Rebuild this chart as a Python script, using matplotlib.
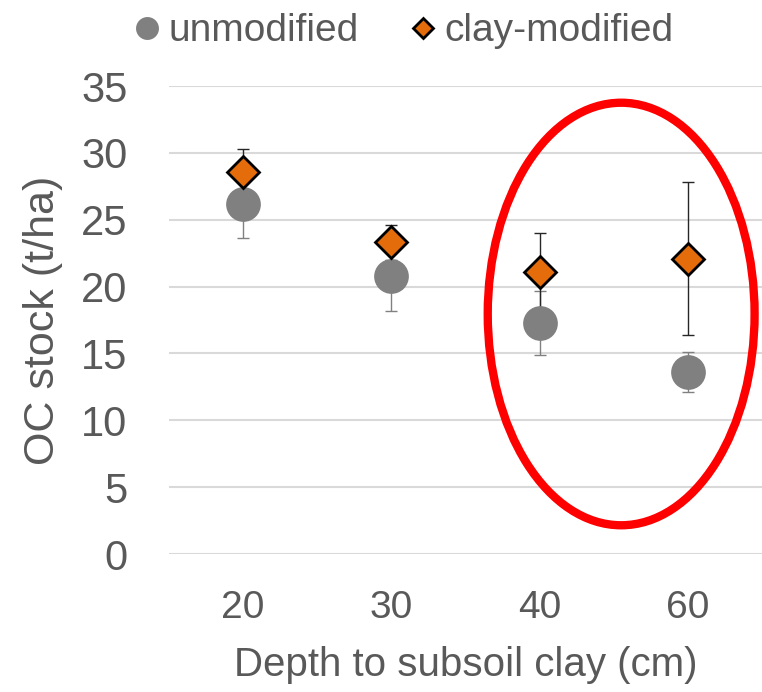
import matplotlib.pyplot as plt
from matplotlib.patches import Ellipse

# OC stock by depth to subsoil clay
depths = ["20", "30", "40", "60"]
unmodified = [26.2, 20.8, 17.3, 13.6]
unmodified_err = [2.6, 2.6, 2.4, 1.5]
clay_modified = [28.6, 23.3, 21.1, 22.1]
clay_modified_err = [1.7, 1.3, 2.9, 5.7]

plt.rcParams["font.family"] = ["Liberation Sans", "DejaVu Sans"]

text_col = "#595959"
grid_col = "#d9d9d9"

fig = plt.figure(figsize=(7.62, 6.92), dpi=100)
ax = fig.add_axes([0.2218, 0.1994, 0.7782, 0.6763])

x = list(range(len(depths)))
# error bars sit behind every marker
ax.errorbar(x, unmodified, yerr=unmodified_err, fmt="none", ecolor="#808080",
            elinewidth=1.0, capsize=4.5, capthick=1.0, zorder=2)
ax.errorbar(x, clay_modified, yerr=clay_modified_err, fmt="none", ecolor="#262626",
            elinewidth=1.0, capsize=4.5, capthick=1.0, zorder=2)
h1, = ax.plot(x, unmodified, "o", color="#808080", markersize=25,
              markeredgewidth=0, zorder=3, label="unmodified")
h2, = ax.plot(x, clay_modified, "D", color="#e46c0a", markersize=16,
              markeredgecolor="black", markeredgewidth=2, zorder=4,
              label="clay-modified")

ax.set_xlim(-0.5, 3.5)
ax.set_ylim(0, 35)
ax.set_xticks(x)
ax.set_xticklabels(depths)
ax.set_yticks(range(0, 36, 5))
ax.yaxis.grid(True, color=grid_col, linewidth=1.5)
ax.set_axisbelow(True)
for s in ax.spines.values():
    s.set_visible(False)
ax.tick_params(length=0, colors=text_col)
ax.tick_params(axis="y", pad=30, labelsize=30)
ax.tick_params(axis="x", pad=26, labelsize=28)

ax.set_xlabel("Depth to subsoil clay (cm)", fontsize=29, color=text_col, labelpad=14)
ax.set_ylabel("OC stock (t/ha)", fontsize=31, color=text_col, labelpad=13)

# highlight the two deepest profiles
ring = Ellipse((2.55, 17.95), 1.80, 31.6, fill=False, edgecolor="#ff0000",
               linewidth=6, clip_on=False, zorder=5)
ax.add_patch(ring)

leg = fig.legend([h1, h2], ["unmodified", "clay-modified"], loc="center",
                 bbox_to_anchor=(0.531, 0.955), ncol=2, frameon=False,
                 fontsize=28, handlelength=0.6, handletextpad=0.25,
                 columnspacing=1.35, markerscale=0.66, borderpad=0)
for t in leg.get_texts():
    t.set_color(text_col)

fig.savefig("out.png", dpi=100)
